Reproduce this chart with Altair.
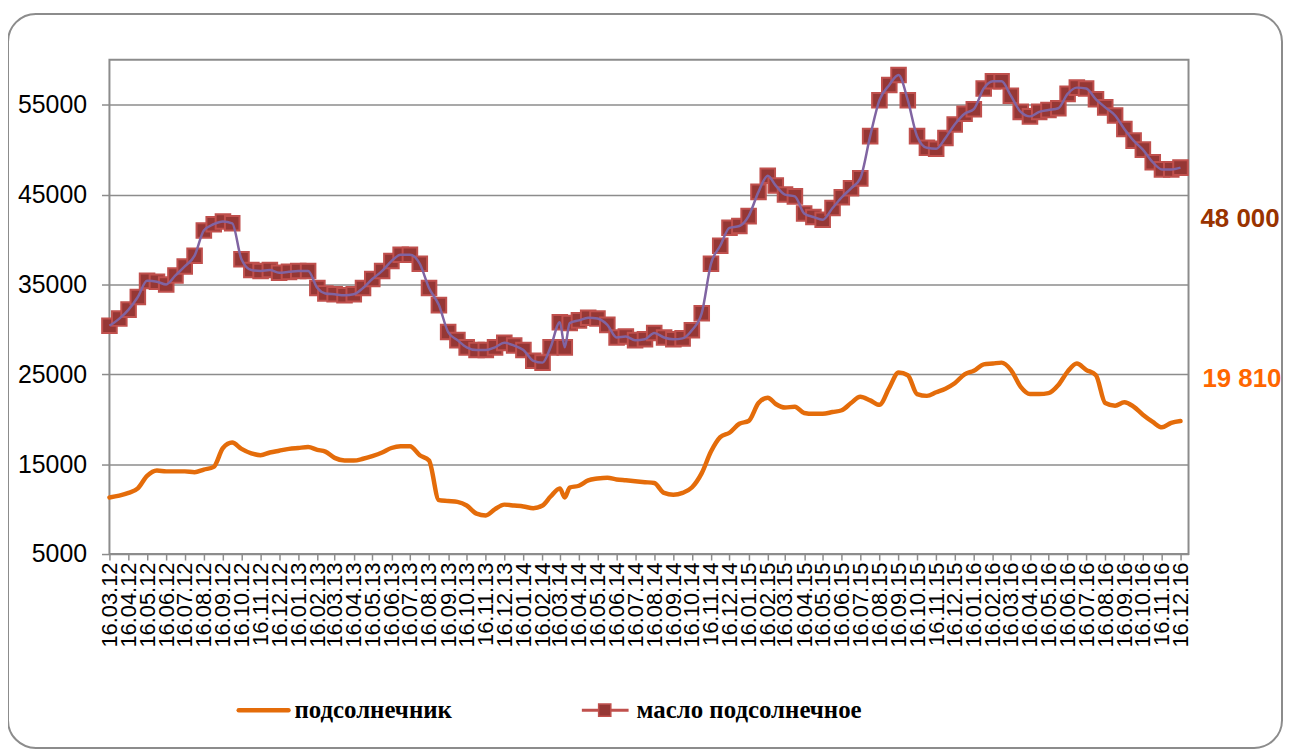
import altair as alt
import pandas as pd

# ---------------- data ----------------
series_names = ["подсолнечник", "масло подсолнечное"]

# x-axis tick labels: the 16th of each month, 16.03.12 ... 16.12.16
months = [(2012, m) for m in range(3, 13)] + [(y, m) for y in range(2013, 2017) for m in range(1, 13)]
tick_dates = [f"{y}-{m:02d}-16" for (y, m) in months]

# observation dates: twice a month, plus one extra reading on 24.03.14
obs_dates = []
for i, (y, m) in enumerate(months):
    if i > 0:
        obs_dates.append(f"{y}-{m:02d}-01")
    obs_dates.append(f"{y}-{m:02d}-16")
obs_dates.insert(obs_dates.index("2014-03-16") + 1, "2014-03-24")

sunflower = [
    11300, 11500, 11800, 12300, 13700, 14300, 14200, 14200, 14200, 14100,
    14400, 14700, 16800, 17400, 16700, 16200, 16000, 16300, 16500, 16700,
    16800, 16900, 16600, 16400, 15700, 15400, 15400, 15600, 15900, 16300,
    16800, 17000, 17000, 16000, 15400, 11000, 10900, 10800, 10400, 9500,
    9300, 10000, 10500, 10400, 10300, 10100, 10400, 11400, 12300, 11300,
    12400, 12600, 13200, 13400, 13500, 13300, 13200, 13100, 13000, 12900,
    11800, 11600, 11800, 12400, 14000, 16400, 18000, 18500, 19500, 19800,
    21800, 22400, 21700, 21300, 21400, 20700, 20600, 20600, 20800, 21000,
    21800, 22500, 22100, 21600, 23500, 25200, 24900, 22800, 22600, 23000,
    23400, 24000, 25000, 25400, 26100, 26200, 26300, 25500, 23600, 22800,
    22800, 22900, 23800, 25300, 26200, 25500, 24900, 21800, 21500, 21900,
    21400, 20500, 19700, 19100, 19600, 19810,
]

oil = [
    30400, 31200, 32200, 33600, 35400, 35300, 35000, 36000, 37000, 38200,
    41000, 41700, 42000, 41800, 37800, 36600, 36500, 36600, 36300, 36400,
    36500, 36500, 34600, 34000, 33900, 33800, 33900, 34600, 35600, 36500,
    37600, 38300, 38300, 37300, 34600, 32700, 29700, 28800, 28000, 27700,
    27700, 28000, 28500, 28200, 27700, 26500, 26300, 28000, 30800, 28000,
    30700, 31000, 31300, 31200, 30500, 29100, 29200, 28800, 28900, 29600,
    29100, 28900, 29000, 29900, 31800, 37300, 39300, 41300, 41500, 42600,
    45300, 47100, 46000, 45000, 44800, 42900, 42500, 42200, 43500, 44700,
    45700, 46800, 51500, 55500, 57200, 58300, 55500, 51500, 50200, 50100,
    51300, 52800, 54000, 54500, 56800, 57600, 57600, 56000, 54200, 53700,
    54200, 54400, 54600, 56200, 56900, 56800, 55600, 54700, 53800, 52300,
    51000, 50000, 48600, 47800, 47800, 48000,
]

y_ticks = [5000, 15000, 25000, 35000, 45000, 55000]
y_domain = [5000, 60000]
x_domain = ["2012-03-16", "2016-12-29"]

# ---------------- build ----------------
def ms(s):
    return int(pd.Timestamp(s, tz="UTC").value // 10**6)

df = pd.DataFrame({"date": obs_dates, "sunflower": sunflower, "oil": oil})

ORANGE = "#E46C0A"
OIL_FILL = "#953735"
OIL_EDGE = "#C0504D"
OIL_LINE = "#8064A2"
GRID = "#8C8C8C"

x_axis = alt.Axis(
    values=[ms(d) for d in tick_dates],
    labelExpr="utcFormat(datum.value, '%d.%m.%y')",
    labelAngle=-90, labelFont="Liberation Sans", labelFontSize=22, labelColor="#000",
    labelOverlap=False, labelFlush=False, labelBound=False, labelPadding=2,
    tickSize=6, tickColor=GRID, tickWidth=1.5, domain=False, grid=False, title=None,
)
y_axis = alt.Axis(
    values=y_ticks, format="d",
    labelFont="Liberation Sans", labelFontSize=25, labelColor="#000", labelPadding=15,
    tickSize=8, tickColor=GRID, tickWidth=1.5,
    grid=True, gridColor=GRID, gridWidth=1.5, domain=False, title=None,
)
x_enc = alt.X("date:T", scale=alt.Scale(type="utc", domain=[ms(d) for d in x_domain], nice=False),
              axis=x_axis, title=None)
y_scale = alt.Scale(domain=y_domain, nice=False, zero=False)

base = alt.Chart(df)

line_sun = base.mark_line(color=ORANGE, strokeWidth=4.5, strokeCap="round", strokeJoin="round",
                          interpolate="monotone").encode(
    x=x_enc, y=alt.Y("sunflower:Q", scale=y_scale, axis=y_axis, title=None))

pts_oil = base.mark_square(size=215, fill=OIL_FILL, stroke=OIL_EDGE, strokeWidth=2, opacity=1).encode(
    x=x_enc, y=alt.Y("oil:Q", scale=y_scale, axis=y_axis, title=None))

line_oil = base.mark_line(color=OIL_LINE, strokeWidth=2.5, interpolate="monotone").encode(
    x=x_enc, y=alt.Y("oil:Q", scale=y_scale, axis=y_axis, title=None))

# end-value labels
lab_df = pd.DataFrame({
    "txt": [f"{oil[-1]:,}".replace(",", " "), f"{sunflower[-1]:,}".replace(",", " ")],
})
lab_oil = alt.Chart(lab_df.iloc[[0]]).mark_text(
    align="left", baseline="middle", font="Liberation Sans", fontSize=26, fontWeight="bold",
    color="#993300").encode(text="txt:N", x=alt.value(1097), y=alt.value(160))
lab_sun = alt.Chart(lab_df.iloc[[1]]).mark_text(
    align="left", baseline="middle", font="Liberation Sans", fontSize=26, fontWeight="bold",
    color="#FF6600").encode(text="txt:N", x=alt.value(1099), y=alt.value(321))

# outer rounded frame
frame_df = pd.DataFrame({"k": [0]})
frame = alt.Chart(frame_df).mark_rect(
    fill="white", fillOpacity=0, stroke="#8C8C8C", strokeWidth=2, cornerRadius=28
).encode(x=alt.value(-102), x2=alt.value(1179), y=alt.value(-46), y2=alt.value(692))

# legend
leg_df = pd.DataFrame({"name": series_names})
leg_sun_line = alt.Chart(leg_df.iloc[[0]]).mark_rule(
    color=ORANGE, strokeWidth=4.5, strokeCap="round").encode(
    x=alt.value(130), x2=alt.value(180), y=alt.value(654))
leg_sun_txt = alt.Chart(leg_df.iloc[[0]]).mark_text(
    align="left", baseline="middle", font="Liberation Serif", fontSize=25, fontWeight="bold",
    color="#000").encode(text="name:N", x=alt.value(186), y=alt.value(654))
leg_oil_line = alt.Chart(leg_df.iloc[[1]]).mark_rule(
    color=OIL_EDGE, strokeWidth=3).encode(
    x=alt.value(475), x2=alt.value(522), y=alt.value(654))
leg_oil_sq = alt.Chart(leg_df.iloc[[1]]).mark_square(
    size=150, fill=OIL_FILL, stroke=OIL_EDGE, strokeWidth=1.5, opacity=1).encode(
    x=alt.value(498), y=alt.value(654))
leg_oil_txt = alt.Chart(leg_df.iloc[[1]]).mark_text(
    align="left", baseline="middle", font="Liberation Serif", fontSize=25, fontWeight="bold",
    color="#000").encode(text="name:N", x=alt.value(530), y=alt.value(654))

chart = alt.layer(
    frame, line_sun, pts_oil, line_oil, lab_oil, lab_sun,
    leg_sun_line, leg_sun_txt, leg_oil_line, leg_oil_sq, leg_oil_txt,
).properties(
    width=1085, height=497,
    autosize=alt.AutoSizeParams(type="none"),
    padding={"left": 102, "top": 50, "right": 95, "bottom": 197},
    background="white",
).configure_view(stroke=GRID, strokeWidth=2)

chart.save("out.html", embed_options={"renderer": "svg", "actions": False})
